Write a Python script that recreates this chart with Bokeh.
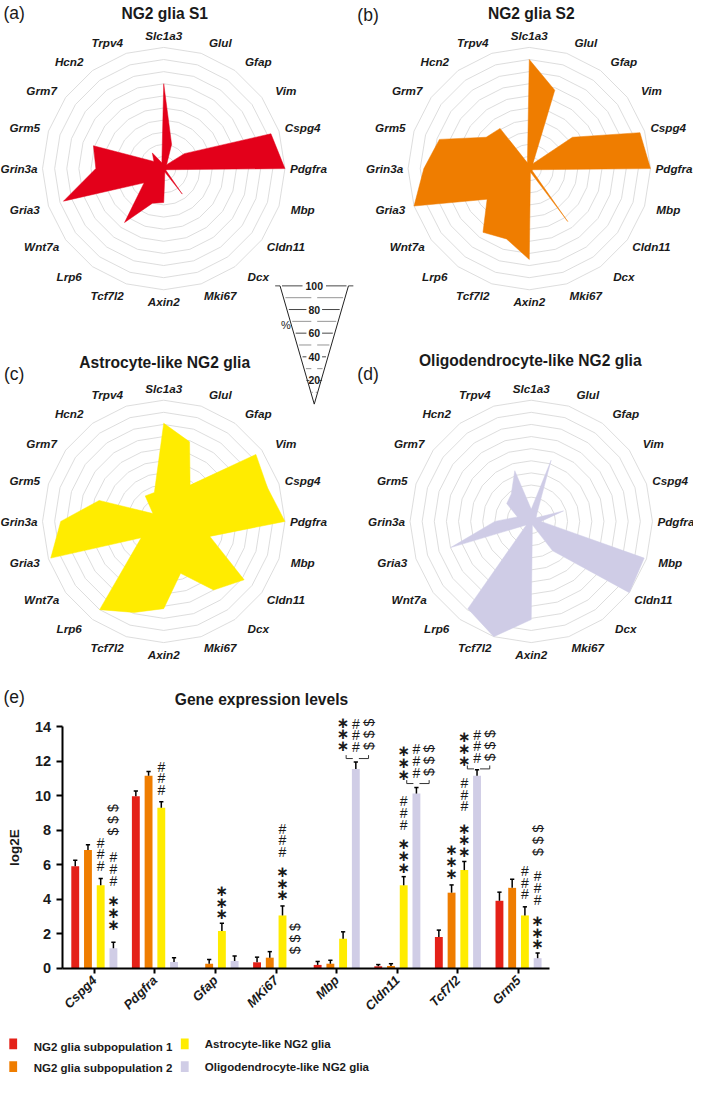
import numpy as np
from bokeh.plotting import figure
from bokeh.models import Range1d, FixedTicker, LinearAxis
from bokeh.embed import file_html
from bokeh.resources import INLINE
from bokeh.core.properties import value

# ---------------- data ----------------
genes = ["Slc1a3", "Glul", "Gfap", "Vim", "Cspg4", "Pdgfra", "Mbp", "Cldn11",
         "Dcx", "Mki67", "Axin2", "Tcf7l2", "Lrp6", "Wnt7a", "Gria3", "Grin3a",
         "Grm5", "Grm7", "Hcn2", "Trpv4"]
radar_s1 = [70, 21, 4, 21, 93, 100, 3, 2, 26, 3, 28, 30, 55, 20, 87, 56, 61, 10, 16, 5]
radar_s2 = [90, 68, 5, 44, 96, 100, 3, 3, 54, 3, 75, 61, 65, 43, 100, 87, 78, 44, 41, 5]
radar_astro = [81, 69, 37, 94, 90, 100, 40, 82, 70, 45, 72, 79, 90, 23, 98, 85, 56, 11, 26, 25]
radar_oligo = [10, 53, 8, 5, 28, 8, 98, 100, 30, 3, 81, 100, 89, 5, 70, 30, 12, 25, 28, 44]
radar_titles = ["NG2 glia S1", "NG2 glia S2", "Astrocyte-like NG2 glia", "Oligodendrocyte-like NG2 glia"]
radar_tags = ["(a)", "(b)", "(c)", "(d)"]
radar_colors = ["#E3001A", "#EF7D00", "#FFEC00", "#CFCCE6"]
scale_levels = [10, 20, 30, 40, 50, 60, 70, 80, 90, 100]
scale_labels = [20, 40, 60, 80, 100]

bar_genes = ["Cspg4", "Pdgfra", "Gfap", "MKi67", "Mbp", "Cldn11", "Tcf7l2", "Grm5"]
expr_s1 = [5.9, 9.97, 0.0, 0.33, 0.18, 0.1, 1.8, 3.9]
expr_s2 = [6.85, 11.15, 0.25, 0.6, 0.25, 0.12, 4.37, 4.65]
expr_astro = [4.8, 9.3, 2.15, 3.05, 1.7, 4.8, 5.68, 3.05]
expr_oligo = [1.15, 0.35, 0.4, 0.0, 11.55, 10.12, 11.15, 0.57]
sem_s1 = [0.35, 0.3, 0.0, 0.3, 0.2, 0.1, 0.4, 0.5]
sem_s2 = [0.3, 0.25, 0.25, 0.35, 0.2, 0.13, 0.45, 0.5]
sem_astro = [0.4, 0.35, 0.45, 0.55, 0.4, 0.5, 0.5, 0.5]
sem_oligo = [0.35, 0.25, 0.3, 0.0, 0.4, 0.35, 0.35, 0.3]
series_names = ["NG2 glia subpopulation 1", "NG2 glia subpopulation 2",
                "Astrocyte-like NG2 glia", "Oligodendrocyte-like NG2 glia"]
bar_colors = ["#E42118", "#EF7D00", "#FFEC00", "#D0CDE6"]
y_ticks = [0, 2, 4, 6, 8, 10, 12, 14]

# significance marks: (gene index, bar slot, symbol, centre value)
sig_marks = [
    (0, 2, "#", 6.6),
    (0, 3, "*", 3.2), (0, 3, "#", 5.75), (0, 3, "$", 8.6),
    (1, 2, "#", 11.0),
    (2, 2, "*", 3.8),
    (3, 2, "*", 4.9), (3, 2, "#", 7.4), (3, 3, "$", 1.7),
    (4, 2, "*", 13.55), (4, 3, "#", 13.5), (4, 4, "$", 13.55),
    (5, 2, "*", 6.5), (5, 2, "#", 9.0),
    (5, 2, "*", 11.9), (5, 3, "#", 12.0), (5, 4, "$", 12.05),
    (6, 1, "*", 6.15),
    (6, 2, "*", 7.4), (6, 2, "#", 10.05),
    (6, 2, "*", 12.7), (6, 3, "#", 12.85), (6, 4, "$", 12.9),
    (7, 2, "#", 4.95),
    (7, 3, "*", 2.05), (7, 3, "#", 4.65), (7, 3, "$", 7.4),
]
brackets = [(4, 12.15), (5, 10.7), (6, 11.55)]

FONT = "Liberation Sans"
TXT = "#1a1a1a"

# ---------------- one canvas in reference-pixel coordinates ----------------
W_REF, H_REF = 709, 1101
p = figure(width=693, height=1076, x_range=Range1d(0, W_REF), y_range=Range1d(H_REF, 0),
           output_backend="svg", toolbar_location=None, x_axis_type=None, y_axis_type=None,
           min_border=0, outline_line_color=None)
p.grid.visible = False

# bar chart coordinate system (group index / log2E) mapped onto the canvas
BX0, BXS = 96.0, 62.0     # ref-px of group 0, px per group
BY0, BYS = 990.0, 17.64   # ref-px of log2E = 0, px per unit
p.extra_x_ranges = {"bx": Range1d((0 - BX0) / BXS, (W_REF - BX0) / BXS)}
p.extra_y_ranges = {"by": Range1d((BY0 - H_REF) / BYS, (BY0 - 0) / BYS)}

# ---------------- radar charts ----------------
centers = [(167, 172), (541, 172), (167, 533), (543, 533)]
title_pos = [(168, 13), (543, 13), (168, 370), (542, 368)]
tag_pos = [(14, 13), (376, 15), (14, 382), (376, 382)]
R = 124
n = len(genes)
theta = np.deg2rad(90 - 360.0 / n * np.arange(n))
cth, sth = np.cos(theta), np.sin(theta)
closed = np.append(np.arange(n), 0)
radars = [radar_s1, radar_s2, radar_astro, radar_oligo]

for i, vals in enumerate(radars):
    cx, cy = centers[i]
    rxs, rys = [], []
    for lev in scale_levels:
        r = R * lev / 100.0
        rxs.append(list(cx + r * cth[closed]))
        rys.append(list(cy - r * sth[closed]))
    p.multi_line(rxs, rys, line_color="#D9D9D9", line_width=0.9)
    rv = np.array(vals) / 100.0 * R
    p.patch(list(cx + rv * cth), list(cy - rv * sth), fill_color=radar_colors[i],
            line_color=radar_colors[i], line_width=0.5)
    lx = cx + 148 * np.sign(np.round(cth, 6)) * np.abs(cth) ** 0.8
    ly = cy - 136 * sth
    p.text(list(lx), list(ly), text=genes, text_align="center", text_baseline="middle",
           text_font=value(FONT), text_font_style="bold italic", text_font_size="11.7px",
           text_color=TXT)
    p.text([title_pos[i][0]], [title_pos[i][1]], text=[radar_titles[i]], text_align="center",
           text_baseline="middle", text_font=value(FONT), text_font_style="bold",
           text_font_size="15.6px", text_color=TXT)
    p.text([tag_pos[i][0]], [tag_pos[i][1]], text=[radar_tags[i]], text_align="center",
           text_baseline="middle", text_font=value(FONT), text_font_size="17.5px",
           text_color=TXT)

# percentage scale wedge
tcx, ttop, tapex, thw = 321, 292, 413, 35
p.line([tcx - thw, tcx, tcx + thw], [ttop, tapex, ttop], line_color="#222222", line_width=1)
for lev in scale_levels:
    yy = tapex - (tapex - ttop) * lev / 100.0
    hw = thw * lev / 100.0
    labelled = lev in scale_labels
    gap = (12 if lev == 100 else 8) if labelled else 3
    col = "#333333" if labelled else "#8a8a8a"
    p.segment(x0=[tcx - hw + 2, tcx + gap], y0=[yy, yy], x1=[tcx - gap, tcx + hw - 2], y1=[yy, yy],
              line_color=col, line_width=0.9)
    if lev == 100:
        p.segment(x0=[tcx - hw - 5, tcx + hw], y0=[yy, yy], x1=[tcx - hw, tcx + hw + 5],
                  y1=[yy, yy], line_color=col, line_width=0.9)
p.text([tcx] * len(scale_labels),
       [tapex - (tapex - ttop) * v / 100.0 for v in scale_labels],
       text=[str(v) for v in scale_labels], text_align="center", text_baseline="middle",
       text_font=value(FONT), text_font_style="bold", text_font_size="10.5px", text_color=TXT)
p.text([292], [332], text=["%"], text_align="center", text_baseline="middle",
       text_font=value(FONT), text_font_size="11px", text_color=TXT)

# ---------------- bar chart ----------------
p.text([267], [715], text=["Gene expression levels"], text_align="center", text_baseline="middle",
       text_font=value(FONT), text_font_style="bold", text_font_size="15.6px", text_color=TXT)
p.text([14], [713], text=["(e)"], text_align="center", text_baseline="middle",
       text_font=value(FONT), text_font_size="17.5px", text_color=TXT)

BR = dict(x_range_name="bx", y_range_name="by")
slot_w, bar_w = 0.21, 0.13
idx = np.arange(len(bar_genes))
series = [expr_s1, expr_s2, expr_astro, expr_oligo]
sems = [sem_s1, sem_s2, sem_astro, sem_oligo]
for k in range(4):
    xs = idx + (k - 1.5) * slot_w
    v = np.array(series[k], dtype=float)
    e = np.array(sems[k], dtype=float)
    p.vbar(x=xs, top=v, width=bar_w, fill_color=bar_colors[k], line_color=None, **BR)
    m = e > 0
    p.segment(x0=xs[m], y0=v[m], x1=xs[m], y1=(v + e)[m], line_color="black", line_width=1.5, **BR)
    p.segment(x0=xs[m] - 0.035, y0=(v + e)[m], x1=xs[m] + 0.035, y1=(v + e)[m],
              line_color="black", line_width=1.5, **BR)

step = 0.68
sym_cfg = {
    "*": dict(ch="\u2217", font="DejaVu Sans", style="bold", size="15px", angle=0.0),
    "#": dict(ch="#", font=FONT, style="normal", size="14px", angle=0.0),
    "$": dict(ch="$", font=FONT, style="normal", size="14px", angle=np.pi / 2),
}
for sym, cfg in sym_cfg.items():
    xs, ys = [], []
    for g, slot, s, c in sig_marks:
        if s != sym:
            continue
        for j in (-1, 0, 1):
            xs.append(g + (slot - 1.5) * slot_w)
            ys.append(c + j * step)
    p.text(xs, ys, text=[cfg["ch"]] * len(xs), angle=cfg["angle"], text_align="center",
           text_baseline="middle", text_font=value(cfg["font"]), text_font_style=cfg["style"],
           text_font_size=cfg["size"], text_color=TXT, **BR)

bx, by = [], []
for g, yb in brackets:
    x2 = g + 0.5 * slot_w
    x3 = g + 1.5 * slot_w
    x4 = g + 2.5 * slot_w
    bx.append([x2 + 0.05, x2 + 0.05, x3 - 0.05])
    by.append([yb + 0.2, yb, yb])
    bx.append([x3 + 0.05, x4, x4])
    by.append([yb, yb, yb + 0.2])
p.multi_line(bx, by, line_color="#333333", line_width=1, **BR)

x_lo, x_hi = (63 - BX0) / BXS, (562 - BX0) / BXS
xax = LinearAxis(x_range_name="bx", y_range_name="by", fixed_location=0,
                 ticker=FixedTicker(ticks=list(range(len(bar_genes)))), bounds=(x_lo, x_hi))
xax.major_label_overrides = {i: g for i, g in enumerate(bar_genes)}
xax.major_label_orientation = np.pi / 4
xax.major_label_text_font = FONT
xax.major_label_text_font_style = "bold italic"
xax.major_label_text_font_size = "13px"
xax.major_label_text_color = TXT
xax.minor_tick_line_color = None
xax.major_tick_out = 5
xax.major_tick_in = 0
xax.axis_line_width = 2
xax.major_tick_line_width = 2
p.add_layout(xax, "below")

yax = LinearAxis(x_range_name="bx", y_range_name="by", fixed_location=x_lo,
                 ticker=FixedTicker(ticks=y_ticks), bounds=(0, 14))
yax.axis_label = "log2E"
yax.axis_label_text_font = FONT
yax.axis_label_text_font_style = "bold"
yax.axis_label_text_font_size = "13.5px"
yax.axis_label_text_color = TXT
yax.axis_label_standoff = 10
yax.major_label_text_font = FONT
yax.major_label_text_font_style = "bold"
yax.major_label_text_font_size = "14.5px"
yax.major_label_text_color = TXT
yax.minor_tick_line_color = None
yax.major_tick_out = 6
yax.major_tick_in = 0
yax.axis_line_width = 2
yax.major_tick_line_width = 2
p.add_layout(yax, "left")

# ---------------- legend ----------------
sq_x = [13, 13, 188.5, 188.5]
sq_y = [1067.5, 1091, 1067.5, 1091]
tx_x = [34, 34, 209, 209]
tx_y = [1070.5, 1092.5, 1068, 1091.5]
p.rect(x=sq_x, y=sq_y, width=8, height=11, fill_color=bar_colors, line_color=None)
p.text(tx_x, tx_y, text=series_names, text_align="left", text_baseline="middle",
       text_font=value(FONT), text_font_style="bold", text_font_size="11.5px", text_color=TXT)

open("out.html", "w").write(file_html(p, INLINE))
